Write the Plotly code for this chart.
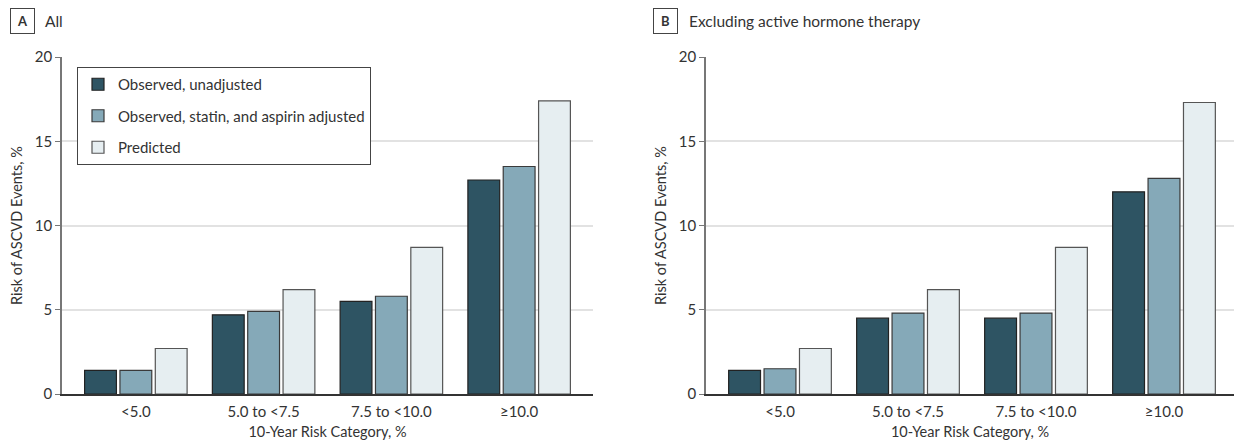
import plotly.graph_objects as go

categories = ["<5.0", "5.0 to <7.5", "7.5 to <10.0", "≥10.0"]
series_names = ["Observed, unadjusted", "Observed, statin, and aspirin adjusted", "Predicted"]

all_unadjusted = [1.4, 4.7, 5.5, 12.7]
all_adjusted = [1.4, 4.9, 5.8, 13.5]
all_predicted = [2.7, 6.2, 8.7, 17.4]

excl_unadjusted = [1.4, 4.5, 4.5, 12.0]
excl_adjusted = [1.5, 4.8, 4.8, 12.8]
excl_predicted = [2.7, 6.2, 8.7, 17.3]

y_ticks = [0, 5, 10, 15, 20]

colors = ["#2E5463", "#85A9B8", "#E6EEF1"]
outline = ["#222222", "#3a3a3a", "#555555"]

FONT = "Lato"
TXT = "#333333"
W, H = 1234, 448

# plot area (pixels)
L, R, T, B = 62, 0, 57, 54
PW = W - L - R

fig = go.Figure()

panelA = [all_unadjusted, all_adjusted, all_predicted]
panelB = [excl_unadjusted, excl_adjusted, excl_predicted]

for i, (name, vals) in enumerate(zip(series_names, panelA)):
    fig.add_trace(go.Bar(
        x=categories, y=vals, name=name, xaxis="x", yaxis="y",
        marker=dict(color=colors[i], line=dict(color=outline[i], width=1.2)),
        legendgroup=f"g{i}", showlegend=True, hoverinfo="y",
    ))
for i, (name, vals) in enumerate(zip(series_names, panelB)):
    fig.add_trace(go.Bar(
        x=categories, y=vals, name=name, xaxis="x2", yaxis="y2",
        marker=dict(color=colors[i], line=dict(color=outline[i], width=1.2)),
        legendgroup=f"g{i}", showlegend=False, hoverinfo="y",
    ))

axA = [0, 531 / PW]
axB = [(706 - L) / PW, 1.0]
pad = 10 / 128.0

xcommon = dict(
    type="category", categoryorder="array", categoryarray=categories,
    showgrid=False, showline=True, linecolor="#333333", linewidth=1.5,
    ticks="", tickfont=dict(family=FONT, size=15, color=TXT), ticklabelstandoff=3,
    title=dict(text="10-Year Risk Category, %", font=dict(family=FONT, size=14.5, color=TXT), standoff=8),
    zeroline=False, fixedrange=True, automargin=False,
)
ycommon = dict(
    range=[0, 20], tickvals=y_ticks, showgrid=True, gridcolor="#E2E2E2", gridwidth=1.5,
    showline=True, linecolor="#777777", linewidth=1.5,
    ticks="outside", ticklen=5, tickcolor="#777777", tickwidth=1,
    tickfont=dict(family=FONT, size=15, color=TXT),
    title=dict(text="Risk of ASCVD Events, %", font=dict(family=FONT, size=14.5, color=TXT), standoff=9),
    zeroline=False, fixedrange=True, automargin=False,
)

fig.update_layout(
    width=W, height=H,
    margin=dict(l=L, r=R, t=T, b=B, pad=0),
    paper_bgcolor="white", plot_bgcolor="white",
    barmode="group", bargap=0.17, bargroupgap=0.1,
    font=dict(family=FONT, size=14, color=TXT),
    xaxis=dict(domain=axA, anchor="y", range=[-0.5 - pad, 3.5 + pad], **xcommon),
    yaxis=dict(domain=[0, 1], anchor="x", **ycommon),
    xaxis2=dict(domain=axB, anchor="y2", range=[-0.5 - pad, -0.5 - pad + (W - 706) / 128.0], **xcommon),
    yaxis2=dict(domain=[0, 1], anchor="x2", **ycommon),
    legend=dict(
        x=77 / W, y=1 - 67 / H, xref="paper", yref="paper",
        xanchor="left", yanchor="top",
        bgcolor="white", bordercolor="#444444", borderwidth=1,
        font=dict(family=FONT, size=15, color=TXT),
        tracegroupgap=9, itemclick=False, itemdoubleclick=False,
    ),
    showlegend=True,
    annotations=[
        dict(text="<b>A</b>", x=22, y=21.5, xref="paper", yref="paper",
             showarrow=False, font=dict(family=FONT, size=13, color=TXT),
             bordercolor="#444444", borderwidth=1, borderpad=3, width=17, height=18,
             xanchor="center", yanchor="middle"),
        dict(text="All", x=43, y=21.5, xref="paper", yref="paper",
             showarrow=False, font=dict(family=FONT, size=15.5, color=TXT),
             xanchor="left", yanchor="middle"),
        dict(text="<b>B</b>", x=665, y=21.5, xref="paper", yref="paper",
             showarrow=False, font=dict(family=FONT, size=13, color=TXT),
             bordercolor="#444444", borderwidth=1, borderpad=3, width=17, height=18,
             xanchor="center", yanchor="middle"),
        dict(text="Excluding active hormone therapy", x=687, y=21.5, xref="paper", yref="paper",
             showarrow=False, font=dict(family=FONT, size=15.5, color=TXT),
             xanchor="left", yanchor="middle"),
    ],
)

# convert pixel positions of annotations into paper fractions
for a in fig.layout.annotations:
    a.x = (a.x - L) / PW
    a.y = 1 - (a.y - T) / (H - T - B)
fig.layout.legend.x = (77 - L) / PW
fig.layout.legend.y = 1 - (67 - T) / (H - T - B)

fig.write_html("out.html", config={"displayModeBar": False},
               post_script="document.body.style.margin='0';document.body.style.padding='0';")
